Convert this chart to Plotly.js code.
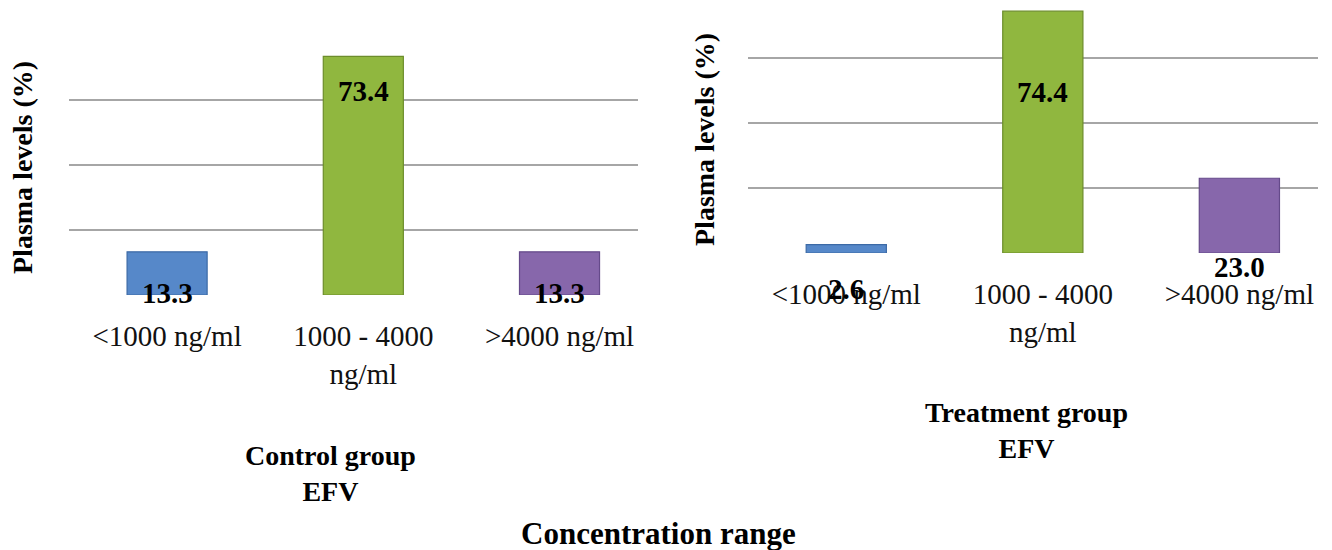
<!DOCTYPE html>
<html>
<head>
<meta charset="utf-8">
<script src="https://cdn.plot.ly/plotly-3.0.1.min.js"></script>
<style>html,body{margin:0;padding:0;background:#fff;}#chart{width:1332px;height:550px;}</style>
</head>
<body>
<div id="chart"></div>
<script>
// ---- data ----
const categories = ['&lt;1000 ng/ml', '1000 - 4000<br>ng/ml', '&gt;4000 ng/ml'];
const controlValues = [13.3, 73.4, 13.3];
const treatmentValues = [2.6, 74.4, 23.0];
const controlLabels = ['13.3', '73.4', '13.3'];
const treatmentLabels = ['2.6', '74.4', '23.0'];
const barColors = ['#5688c9', '#90b73f', '#8767ab'];
const barEdges = ['#3c6aa6', '#6c8d2b', '#654a8a'];
const controlTitle = 'Control group<br>EFV';
const treatmentTitle = 'Treatment group<br>EFV';
const yTitle = 'Plasma levels (%)';
const xTitle = 'Concentration range';

const serif = '"Liberation Serif", "Times New Roman", Times, serif';

function barTrace(vals, xa, ya) {
  return {
    type: 'bar', x: categories, y: vals, xaxis: xa, yaxis: ya,
    width: 0.408,
    marker: { color: barColors, line: { color: barEdges, width: 1.2 } },
    hoverinfo: 'skip', showlegend: false
  };
}

const data = [barTrace(controlValues, 'x', 'y'), barTrace(treatmentValues, 'x2', 'y2')];

// label placement: anchor at base (0) or at bar top, with pixel shift
const controlPlace = [{atTop: false, shift: 2}, {atTop: true, shift: -35}, {atTop: false, shift: 2}];
const treatmentPlace = [{atTop: false, shift: -36}, {atTop: true, shift: -81}, {atTop: false, shift: -14}];

const annotations = [];
function addValueLabels(vals, labels, place, xr, yr) {
  vals.forEach((v, i) => {
    annotations.push({
      xref: xr, yref: yr, x: categories[i], y: place[i].atTop ? v : 0,
      yshift: place[i].shift, yanchor: 'middle', xanchor: 'center',
      text: labels[i], showarrow: false,
      font: { family: serif, size: 29, color: '#000', weight: 700 }
    });
  });
}
addValueLabels(controlValues, controlLabels, controlPlace, 'x', 'y');
addValueLabels(treatmentValues, treatmentLabels, treatmentPlace, 'x2', 'y2');

const titleFont = { family: serif, size: 28, color: '#000', weight: 700 };
annotations.push({ xref: 'paper', yref: 'paper', x: 330/1332, y: 1 - 473/550, text: controlTitle,
  showarrow: false, font: titleFont, xanchor: 'center', yanchor: 'middle' });
annotations.push({ xref: 'paper', yref: 'paper', x: 1026/1332, y: 1 - 430/550, text: treatmentTitle,
  showarrow: false, font: titleFont, xanchor: 'center', yanchor: 'middle' });
annotations.push({ xref: 'paper', yref: 'paper', x: 658/1332, y: 1 - 533/550, text: xTitle,
  showarrow: false, font: { family: serif, size: 31, color: '#000', weight: 700 }, xanchor: 'center', yanchor: 'middle' });
annotations.push({ xref: 'paper', yref: 'paper', x: 23/1332, y: 1 - 168/550, text: yTitle, textangle: -90,
  showarrow: false, font: { family: serif, size: 28, color: '#000', weight: 700 }, xanchor: 'center', yanchor: 'middle' });
annotations.push({ xref: 'paper', yref: 'paper', x: 705/1332, y: 1 - 140/550, text: yTitle, textangle: -90,
  showarrow: false, font: { family: serif, size: 28, color: '#000', weight: 700 }, xanchor: 'center', yanchor: 'middle' });

function xAxis(domain, anchor) {
  return {
    domain: domain, anchor: anchor, type: 'category', range: [-0.5, 2.4],
    showgrid: false, showline: false, zeroline: false, ticks: '',
    tickfont: { family: serif, size: 29, color: '#111' },
    ticklabelstandoff: 21, fixedrange: true
  };
}
function yAxis(domain, anchor) {
  return {
    domain: domain, anchor: anchor, range: [0, 76], tickvals: [0, 20, 40, 60],
    showticklabels: false, showgrid: true, gridcolor: '#a6a6a6', gridwidth: 1.5,
    zeroline: false, showline: false, ticks: '', fixedrange: true
  };
}

const layout = {
  width: 1332, height: 550,
  margin: { l: 0, r: 0, t: 0, b: 0 },
  paper_bgcolor: '#fff', plot_bgcolor: 'rgba(0,0,0,0)',
  font: { family: serif },
  showlegend: false, bargap: 0.5,
  xaxis: xAxis([69/1332, 638/1332], 'y'),
  yaxis: yAxis([1 - 295/550, 1 - 48/550], 'x'),
  xaxis2: xAxis([748/1332, 1318/1332], 'y2'),
  yaxis2: yAxis([1 - 253/550, 1 - 6/550], 'x2'),
  annotations: annotations
};

Plotly.newPlot('chart', data, layout, { displayModeBar: false, staticPlot: true });
</script>
</body>
</html>
